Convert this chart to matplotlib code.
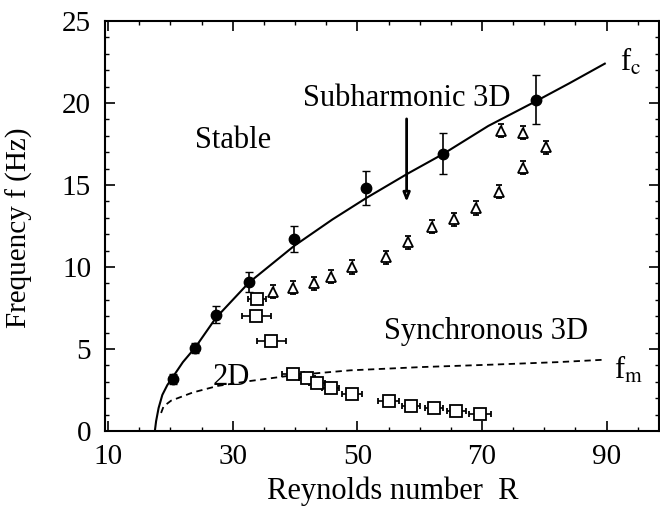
import matplotlib
matplotlib.use("Agg")
import matplotlib.pyplot as plt
from matplotlib.ticker import MultipleLocator

plt.rcParams['font.family'] = ['Liberation Serif', 'DejaVu Serif']
plt.rcParams['mathtext.fontset'] = 'stix'

# Critical frequency data (filled circles)
crit_R = [20.4, 24.0, 27.3, 32.6, 39.9, 51.4, 63.8, 78.6]
crit_f = [3.15, 5.05, 7.1, 9.1, 11.7, 14.8, 16.9, 20.2]
crit_err = [0.3, 0.3, 0.5, 0.6, 0.8, 1.05, 1.25, 1.5]

# Subharmonic 3D (open triangles)
sub_R = [36.5, 39.7, 43.1, 45.7, 49.1, 54.6, 58.2, 62.0, 65.5, 69.1, 72.7, 76.5, 80.2, 73.0, 76.6]
sub_f = [8.5, 8.75, 9.0, 9.4, 10.0, 10.6, 11.5, 12.45, 12.9, 13.6, 14.6, 16.05, 17.3, 18.3, 18.2]
sub_err = 0.4

# 2D / synchronous (open squares)
sq_R = [33.9, 33.8, 36.2, 39.7, 41.9, 43.5, 45.7, 49.2, 55.0, 58.6, 62.3, 65.9, 69.7]
sq_f = [8.05, 7.0, 5.5, 3.5, 3.25, 2.95, 2.6, 2.25, 1.85, 1.55, 1.4, 1.2, 1.05]
sq_xerr = [1.5, 2.3, 2.3, 1.8, 1.3, 1.3, 1.4, 1.6, 1.7, 1.5, 1.5, 1.5, 1.8]

# f_c curve (solid)
fc_R = [17.5, 17.7, 18.1, 18.7, 19.5, 20.4, 22.0, 24.0, 27.3, 32.6, 39.9, 46.0, 51.4, 58.1, 63.8, 71.0, 78.6, 84.0, 89.7]
fc_f = [0.0, 0.6, 1.4, 2.2, 2.8, 3.3, 4.2, 5.1, 6.9, 9.05, 11.3, 12.9, 14.2, 15.7, 16.9, 18.6, 20.1, 21.2, 22.4]

# f_m curve (dashed)
fm_R = [18.5, 18.9, 20.1, 23.6, 27.6, 32.8, 39.7, 48.9, 60.4, 71.9, 82.2, 89.8]
fm_f = [1.1, 1.5, 1.85, 2.35, 2.75, 3.05, 3.4, 3.7, 3.9, 4.05, 4.2, 4.35]

x_ticks = [10, 30, 50, 70, 90]
y_ticks = [0, 5, 10, 15, 20, 25]

fig = plt.figure(figsize=(6.6, 5.09), dpi=100)
ax = fig.add_axes([105/660, 78/509, 554/660, 410/509])

ax.plot(fc_R, fc_f, color='black', lw=1.5, zorder=2)
ax.plot(fm_R, fm_f, color='black', lw=1.3, ls=(0, (3.5, 2.5)), zorder=2)

ax.errorbar(crit_R, crit_f, yerr=crit_err, fmt='o', color='black', ms=7.5,
            ecolor='black', elinewidth=1.2, capsize=3, zorder=3)
ax.errorbar(sub_R, sub_f, yerr=sub_err, fmt='^', mfc='white', mec='black', mew=1.3,
            ms=7.5, ecolor='black', elinewidth=1.0, capsize=2.5, zorder=3)
ax.errorbar(sq_R, sq_f, xerr=sq_xerr, fmt='s', mfc='white', mec='black', mew=1.3,
            ms=8.5, ecolor='black', elinewidth=1.2, capsize=2.5, zorder=3)

# arrow marking subharmonic onset
ax.annotate('', xy=(57.9, 13.8), xytext=(57.9, 19.2),
            arrowprops=dict(arrowstyle='-|>,head_length=0.5,head_width=0.2', lw=2,
                            color='black', fc='white'))

fs = 22
ax.text(57.9, 20.3, 'Subharmonic 3D', ha='center', va='center', fontsize=fs)
ax.text(30.1, 17.7, 'Stable', ha='center', va='center', fontsize=fs)
ax.text(70.7, 6.05, 'Synchronous 3D', ha='center', va='center', fontsize=fs)
ax.text(29.7, 3.25, '2D', ha='center', va='center', fontsize=fs)
ax.text(93.8, 22.5, r'f$_{\mathrm{c}}$', ha='center', va='center', fontsize=fs)
ax.text(93.6, 3.7, r'f$_{\mathrm{m}}$', ha='center', va='center', fontsize=fs)

ax.set_xlim(9.5, 98.4)
ax.set_ylim(0, 25)
ax.set_xticks(x_ticks)
ax.set_yticks(y_ticks)
ax.xaxis.set_minor_locator(MultipleLocator(5))
ax.yaxis.set_minor_locator(MultipleLocator(1))
ax.tick_params(which='both', direction='in', top=True, right=True, labelsize=fs - 1)
ax.tick_params(which='major', length=7, width=1.2)
ax.tick_params(which='minor', length=3, width=1.0)
ax.tick_params(axis='x', pad=9)
ax.tick_params(axis='y', pad=10)
for s in ax.spines.values():
    s.set_linewidth(1.5)

ax.set_xlabel('Reynolds number  R', fontsize=fs)
ax.set_ylabel('Frequency f (Hz)', fontsize=fs - 1)
ax.xaxis.set_label_coords(0.52, -0.11)
ax.yaxis.set_label_coords(-0.13, 0.495)

fig.savefig('out.png', dpi=100)
